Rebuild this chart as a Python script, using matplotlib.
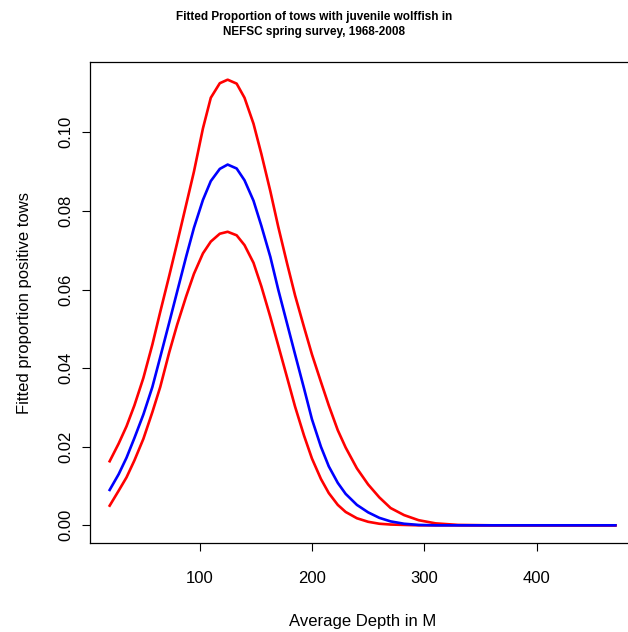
import matplotlib
matplotlib.use("Agg")
import matplotlib.pyplot as plt

depth = [20, 28, 35, 42, 50, 58, 65, 73, 80, 88, 95, 103, 110, 118, 125, 133, 140,
         148, 155, 163, 170, 178, 185, 193, 200, 208, 215, 223, 230, 240, 250, 260,
         270, 282, 295, 310, 330, 360, 400, 440, 470]

fitted = [0.0090, 0.0130, 0.0172, 0.0222, 0.0282, 0.0352, 0.0428, 0.0516, 0.0594,
          0.0683, 0.0757, 0.0828, 0.0876, 0.0907, 0.0918, 0.0908, 0.0878, 0.0826,
          0.0762, 0.0683, 0.0600, 0.0512, 0.0435, 0.0348, 0.0270, 0.0200, 0.0150,
          0.0108, 0.0080, 0.0052, 0.0033, 0.0019, 0.0010, 0.0004, 0.0001, 0.0,
          0.0, 0.0, 0.0, 0.0, 0.0]

upper = [0.0163, 0.0208, 0.0252, 0.0305, 0.0375, 0.0460, 0.0543, 0.0635, 0.0718,
         0.0815, 0.0900, 0.1010, 0.1088, 0.1125, 0.1134, 0.1124, 0.1088, 0.1022,
         0.0945, 0.0850, 0.0760, 0.0665, 0.0585, 0.0504, 0.0435, 0.0365, 0.0305,
         0.0242, 0.0198, 0.0145, 0.0104, 0.0071, 0.0044, 0.0026, 0.0013, 0.0005,
         0.0001, 0.0, 0.0, 0.0, 0.0]

lower = [0.0050, 0.0088, 0.0122, 0.0165, 0.0220, 0.0288, 0.0352, 0.0440, 0.0510,
         0.0582, 0.0640, 0.0692, 0.0722, 0.0742, 0.0747, 0.0738, 0.0713, 0.0668,
         0.0608, 0.0530, 0.0458, 0.0375, 0.0302, 0.0228, 0.0170, 0.0118, 0.0082,
         0.0052, 0.0034, 0.0018, 0.0009, 0.0004, 0.0002, 0.0001, 0.0, 0.0,
         0.0, 0.0, 0.0, 0.0, 0.0]

xticks = [100, 200, 300, 400]
yticks = [0.00, 0.02, 0.04, 0.06, 0.08, 0.10]

plt.rcParams['font.family'] = ['Liberation Sans', 'DejaVu Sans']

W, H = 628, 632
fig = plt.figure(figsize=(W / 100, H / 100), dpi=100)
left, right, top, bottom = 90, 635, 62, 543
ax = fig.add_axes([left / W, 1 - bottom / H, (right - left) / W, (bottom - top) / H])

ax.plot(depth, upper, color='red', lw=1.9)
ax.plot(depth, lower, color='red', lw=1.9)
ax.plot(depth, fitted, color='blue', lw=1.9)

ax.set_xlim(2.5, 487.5)
ax.set_ylim(-0.0045, 0.1179)
ax.set_xticks(xticks)
ax.set_xticklabels([str(t) for t in xticks])
ax.set_yticks(yticks)
ax.set_yticklabels([f"{t:.2f}" for t in yticks], rotation=90, va='center')
ax.tick_params(direction='out', length=6, width=0.8, labelsize=12)
ax.tick_params(axis='x', pad=14)
ax.tick_params(axis='y', pad=6)
for s in ax.spines.values():
    s.set_linewidth(0.9)

ax.set_xlabel("Average Depth in M", fontsize=12, labelpad=20)
ax.set_ylabel("Fitted proportion positive tows", fontsize=12, labelpad=19)

fig.text(0.5, 1 - 11 / H, "Fitted Proportion of tows with juvenile wolffish in\nNEFSC spring survey, 1968-2008",
         ha='center', va='top', fontsize=8.5, fontweight='bold', linespacing=1.3)

fig.savefig("out.png", dpi=100)
